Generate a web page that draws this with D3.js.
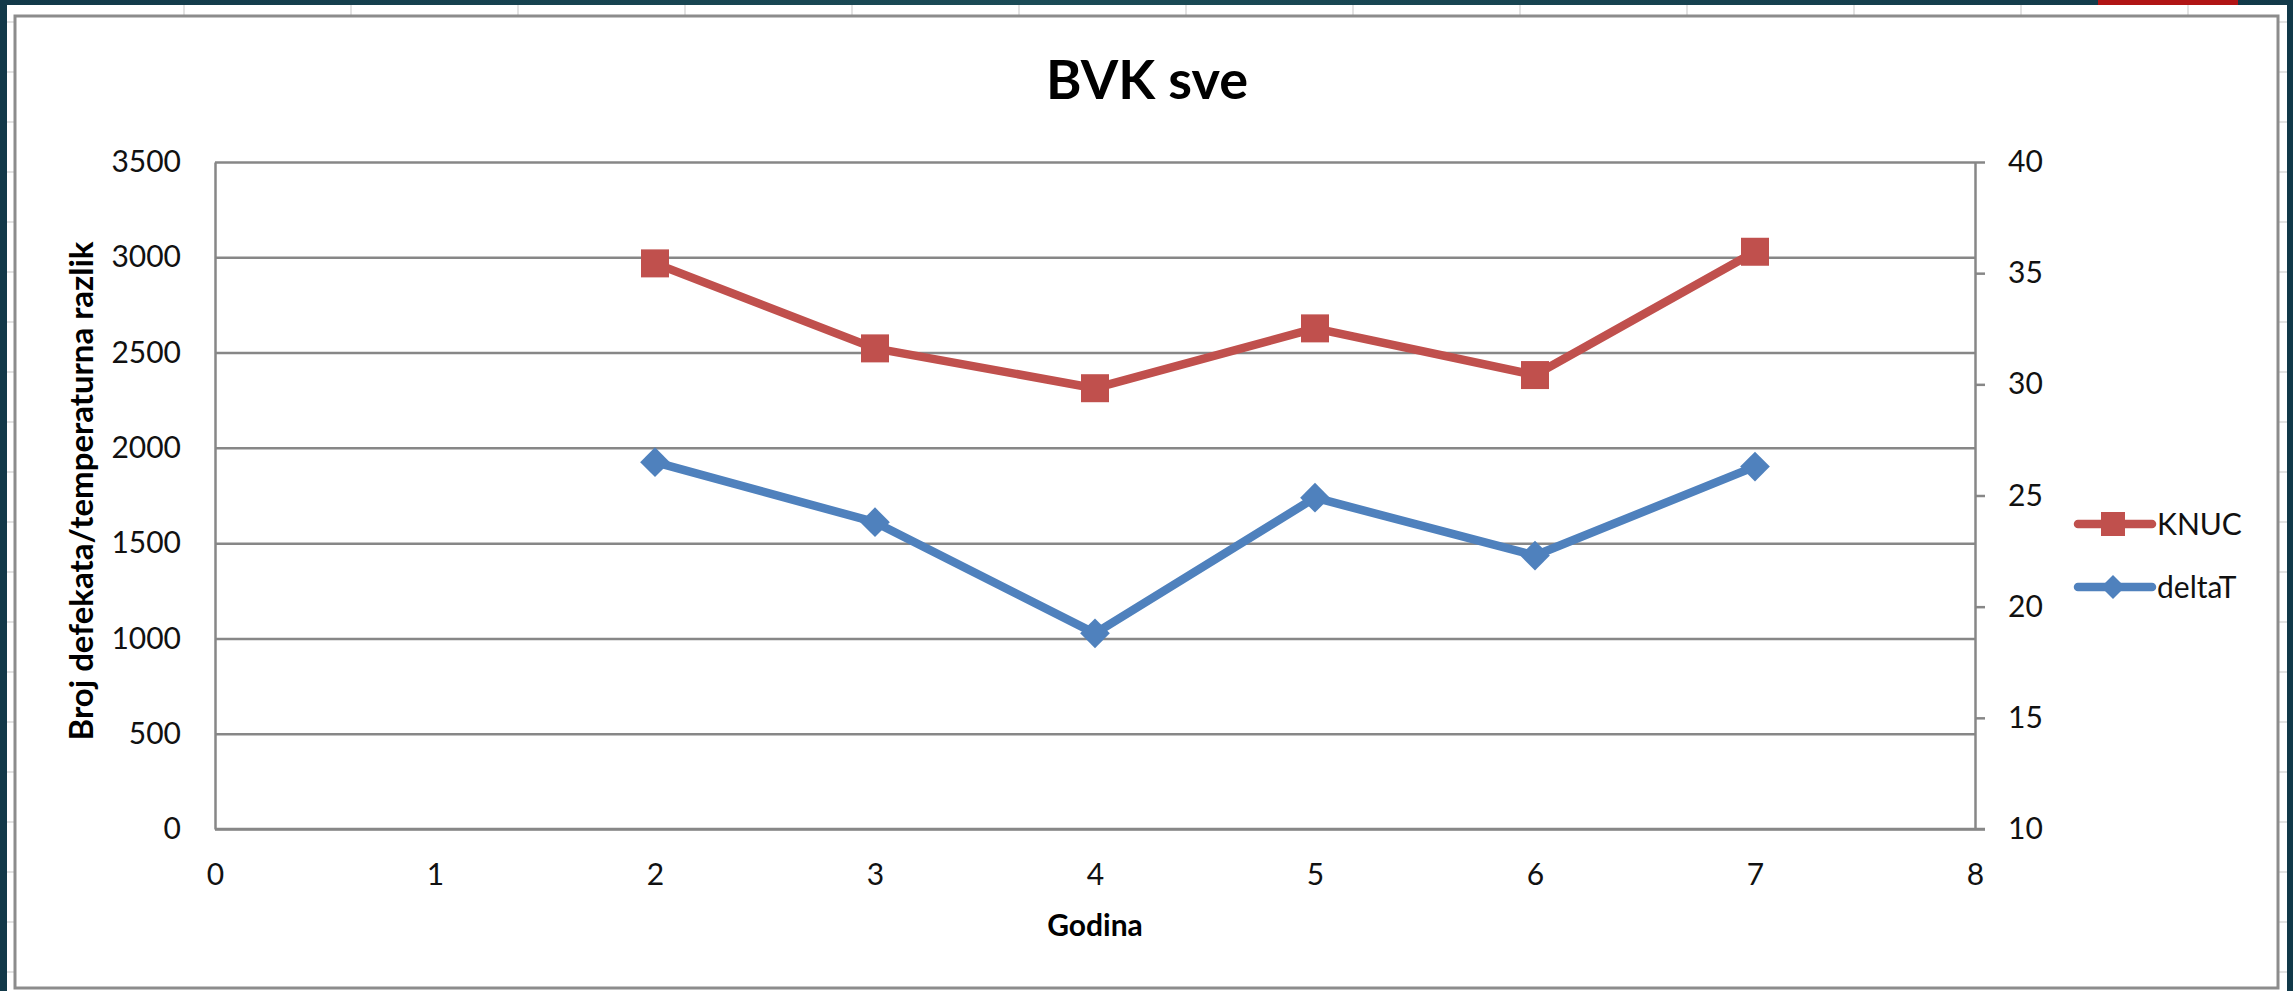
<!DOCTYPE html>
<html>
<head>
<meta charset="utf-8">
<script src="https://cdn.jsdelivr.net/npm/d3@7/dist/d3.min.js"></script>
<style>
    body { margin: 0; background: #15404f; overflow: hidden; }
    svg { display: block; font-family: Lato, "Open Sans", sans-serif; }
</style>
</head>
<body>
<svg id="chart" width="2293" height="991"></svg>
<script>
const years = [2, 3, 4, 5, 6, 7];
const knuc = [2968, 2522, 2313, 2627, 2382, 3029];
const deltaT = [26.5, 23.8, 18.8, 24.9, 22.3, 26.3];
const xTicks = [0, 1, 2, 3, 4, 5, 6, 7, 8];
const leftTicks = [0, 500, 1000, 1500, 2000, 2500, 3000, 3500];
const rightTicks = [10, 15, 20, 25, 30, 35, 40];
const seriesNames = ["KNUC", "deltaT"];

const svg = d3.select("#chart");
const W = 2293, H = 991;

// window chrome + spreadsheet behind the chart
const defs = svg.append("defs");
const bg = defs.append("linearGradient").attr("id", "frame").attr("x1", "0%").attr("x2", "100%");
bg.append("stop").attr("offset", "0%").style("stop-color", "#123949");
bg.append("stop").attr("offset", "45%").style("stop-color", "#1b4b56");
bg.append("stop").attr("offset", "100%").style("stop-color", "#123949");
svg.append("rect").attr("width", W).attr("height", H).attr("fill", "url(#frame)");
svg.append("rect").attr("x", 7).attr("y", 5).attr("width", 2280).attr("height", H - 5).attr("fill", "white");
svg.append("rect").attr("x", 2098).attr("y", 0).attr("width", 140).attr("height", 5).attr("fill", "#b01414");

svg.selectAll(".cell-row")
    .data(d3.range(22, H, 50))
    .join("line")
    .attr("x1", 7).attr("x2", 2287)
    .attr("y1", d => d).attr("y2", d => d)
    .attr("stroke", "#dadada").attr("stroke-width", 1.5);
svg.selectAll(".cell-col")
    .data(d3.range(184, 2287, 167))
    .join("line")
    .attr("x1", d => d).attr("x2", d => d)
    .attr("y1", 5).attr("y2", 20)
    .attr("stroke", "#dadada").attr("stroke-width", 1.5);

svg.append("rect")
    .attr("x", 15).attr("y", 16)
    .attr("width", 2263).attr("height", 972)
    .attr("fill", "white")
    .attr("stroke", "#8c8c8c").attr("stroke-width", 3);

const margin = { top: 162, right: 318, bottom: 162, left: 215 };
const width = W - margin.left - margin.right;
const height = H - margin.top - margin.bottom;

const chartArea = svg.append("g").attr("transform", `translate(${margin.left},${margin.top})`);

const xScale = d3.scaleLinear().domain([0, 8]).range([0, width]);
const yLeft = d3.scaleLinear().domain([0, 3500]).range([height, 0]);
const yRight = d3.scaleLinear().domain([10, 40]).range([height, 0]);

const gridColour = "#878787";
const tickFont = 30;

// gridlines
chartArea.append("g")
    .call(d3.axisLeft(yLeft).tickValues(leftTicks).tickSize(-width).tickFormat(""))
    .call(g => g.select(".domain").remove())
    .call(g => g.selectAll("line").attr("stroke", gridColour).attr("stroke-width", 2.5));

// left axis
chartArea.append("g")
    .call(d3.axisLeft(yLeft).tickValues(leftTicks).tickFormat(d3.format("d")).tickSize(0).tickPadding(34))
    .call(g => g.select(".domain").attr("stroke", gridColour).attr("stroke-width", 2.5))
    .call(g => g.selectAll("text").attr("font-size", tickFont).attr("fill", "#111").attr("font-family", "Lato"));

// right axis
chartArea.append("g")
    .attr("transform", `translate(${width},0)`)
    .call(d3.axisRight(yRight).tickValues(rightTicks).tickSizeInner(10).tickSizeOuter(0).tickPadding(23))
    .call(g => g.select(".domain").attr("stroke", gridColour).attr("stroke-width", 2.5))
    .call(g => g.selectAll("line").attr("stroke", gridColour).attr("stroke-width", 2.5))
    .call(g => g.selectAll("text").attr("font-size", tickFont).attr("fill", "#111").attr("font-family", "Lato"));

// bottom axis
chartArea.append("g")
    .attr("transform", `translate(0,${height})`)
    .call(d3.axisBottom(xScale).tickValues(xTicks).tickSize(0).tickPadding(35))
    .call(g => g.select(".domain").attr("d", `M0,0H${width + 10}`).attr("stroke", gridColour).attr("stroke-width", 2.5))
    .call(g => g.selectAll("text").attr("font-size", tickFont).attr("fill", "#111").attr("font-family", "Lato"));

// series
const colours = { KNUC: "#C0504D", deltaT: "#4F81BD" };
const knucData = years.map((y, i) => [y, knuc[i]]);
const deltaData = years.map((y, i) => [y, deltaT[i]]);

chartArea.append("path")
    .datum(deltaData)
    .attr("fill", "none")
    .attr("stroke", colours.deltaT)
    .attr("stroke-width", 8.5)
    .attr("stroke-linejoin", "round")
    .attr("d", d3.line().x(d => xScale(d[0])).y(d => yRight(d[1])));

chartArea.append("path")
    .datum(knucData)
    .attr("fill", "none")
    .attr("stroke", colours.KNUC)
    .attr("stroke-width", 8.5)
    .attr("stroke-linejoin", "round")
    .attr("d", d3.line().x(d => xScale(d[0])).y(d => yLeft(d[1])));

chartArea.selectAll(".knuc-marker")
    .data(knucData)
    .join("path")
    .attr("class", "knuc-marker")
    .attr("transform", d => `translate(${xScale(d[0])},${yLeft(d[1])})`)
    .attr("d", d3.symbol(d3.symbolSquare, 28 * 28)())
    .attr("fill", colours.KNUC);

chartArea.selectAll(".delta-marker")
    .data(deltaData)
    .join("path")
    .attr("class", "delta-marker")
    .attr("transform", d => `translate(${xScale(d[0])},${yRight(d[1])}) rotate(45)`)
    .attr("d", d3.symbol(d3.symbolSquare, 21 * 21)())
    .attr("fill", colours.deltaT);

// titles
svg.append("text")
    .attr("x", 1147).attr("y", 99)
    .attr("text-anchor", "middle")
    .attr("font-size", 54).attr("font-weight", "bold")
    .attr("fill", "#000")
    .text("BVK sve");

svg.append("text")
    .attr("x", margin.left + width / 2).attr("y", 936)
    .attr("text-anchor", "middle")
    .attr("font-size", 30).attr("font-weight", "bold")
    .attr("fill", "#000")
    .text("Godina");

svg.append("text")
    .attr("transform", "translate(93,491) rotate(-90)")
    .attr("text-anchor", "middle")
    .attr("font-size", 33).attr("font-weight", "bold")
    .attr("fill", "#000")
    .text("Broj defekata/temperaturna razlik");

// legend
const legend = svg.append("g").attr("transform", "translate(2078,524)");
const legendItems = legend.selectAll("g")
    .data(seriesNames)
    .join("g")
    .attr("transform", (d, i) => `translate(0,${i * 63})`);
legendItems.append("line")
    .attr("x1", 0).attr("x2", 74)
    .attr("stroke", d => colours[d])
    .attr("stroke-width", 8.5)
    .attr("stroke-linecap", "round");
legendItems.append("path")
    .attr("transform", d => d === "deltaT" ? "translate(35,0) rotate(45)" : "translate(35,0)")
    .attr("d", d => d === "deltaT" ? d3.symbol(d3.symbolSquare, 17 * 17)() : d3.symbol(d3.symbolSquare, 24 * 24)())
    .attr("fill", d => colours[d]);
legendItems.append("text")
    .attr("x", 79).attr("y", 11)
    .attr("font-size", 30)
    .attr("fill", "#111")
    .text(d => d);
</script>
</body>
</html>
